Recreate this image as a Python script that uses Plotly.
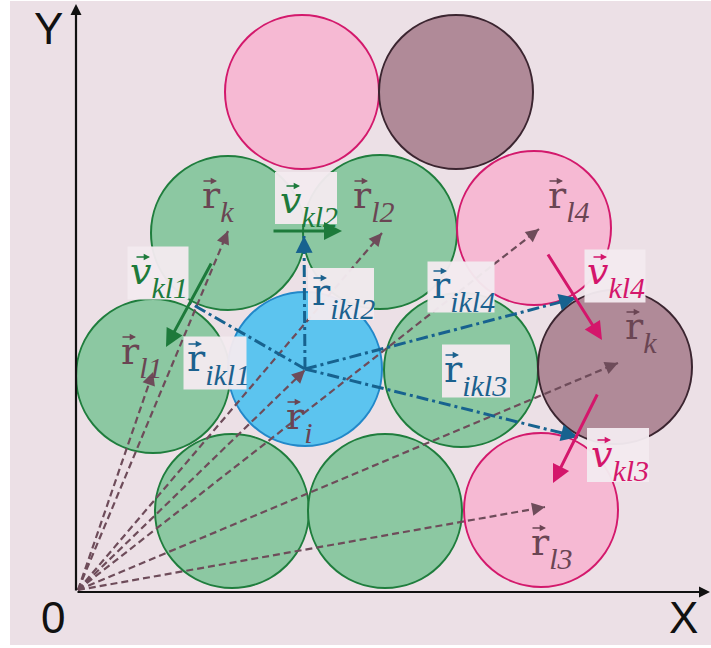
import plotly.graph_objects as go

W, H = 711, 648

# ---- particle layout (pixel units, y downward) ----
circ_x = [302, 456, 228, 380, 534, 153, 305, 461, 615, 232, 385, 541]
circ_y = [92, 92, 233, 232, 228, 376, 369, 370, 367, 511, 511, 510]
circ_kind = ["pink", "mauve", "green", "green", "pink", "green",
             "blue", "green", "mauve", "green", "green", "pink"]
radius = 77

# ---- position vectors from the origin ----
origin = (78, 590)
pos_tip_x = [228, 153, 382, 539, 305, 618, 545]
pos_tip_y = [231, 372, 233, 229, 370, 363, 507]

# ---- relative vectors r_ikl from particle i ----
rel_from = (305, 369)
rel_tip_x = [190, 304, 576, 578]
rel_tip_y = [303, 236, 298, 437]

# ---- velocity arrows (start -> end) ----
vel_x0 = [212, 272, 547, 598]
vel_y0 = [262, 231, 253, 393]
vel_x1 = [166, 342, 602, 553]
vel_y1 = [347, 231, 340, 483]
vel_kind = ["green", "green", "pink", "pink"]

# ---- vector labels: symbol, subscript, letter centre ----
lab_sym = ["r", "r", "r", "r", "r", "r", "r",
           "v", "v", "r", "r", "r", "r", "v", "v"]
lab_sub = ["k", "l2", "l4", "l1", "i", "k", "l3",
           "kl1", "kl2", "ikl2", "ikl1", "ikl4", "ikl3", "kl4", "kl3"]
lab_kind = ["mauve"] * 7 + ["green", "green", "blue", "blue", "blue", "blue",
                            "pink", "pink"]
lab_x = [209, 360, 555, 128, 293, 632, 538, 139, 289, 319, 194, 439, 451, 596, 600]
lab_y = [200, 200, 200, 356, 421, 331, 547, 276, 205, 297, 363, 290, 374, 276, 459]

# ---- label boxes (centre, size) for the boxed labels ----
box_cx = [158, 306, 341, 215, 461, 476, 615, 618]
box_cy = [273, 198, 294, 363, 287, 371, 276, 455]
box_w = [61, 62, 66, 63, 67, 68, 61, 62]
box_h = [53, 52, 52, 53, 51, 53, 53, 54]

BG = "#ece0e6"
FILL = {"pink": "#f6b9d3", "mauve": "#b08a98", "green": "#8cc8a2", "blue": "#5cc4ef"}
EDGE = {"pink": "#d3196c", "mauve": "#3b2530", "green": "#1f7d3d", "blue": "#2288c9"}
INK = {"green": "#1d7a3b", "blue": "#1b618e", "pink": "#d4166b", "mauve": "#6a4553"}
POS_LINE = "#6e4c5a"
REL_LINE = "#17628f"
MAIN_FONT = "DejaVu Serif"
SUB_FONT = "Liberation Serif"

fig = go.Figure()
shapes = []
annotations = []

# background panel
shapes.append(dict(type="rect", xref="x", yref="y", x0=10, x1=W, y0=1, y1=645,
                   fillcolor=BG, line=dict(width=0), layer="below"))

# particles
for cx, cy, kind in zip(circ_x, circ_y, circ_kind):
    shapes.append(dict(type="circle", xref="x", yref="y",
                       x0=cx - radius, x1=cx + radius, y0=cy - radius, y1=cy + radius,
                       fillcolor=FILL[kind], line=dict(color=EDGE[kind], width=2),
                       layer="below"))


def arrow_head(x0, y0, x1, y1, color, width):
    dx, dy = x1 - x0, y1 - y0
    n = (dx * dx + dy * dy) ** 0.5
    back = 6
    annotations.append(dict(x=x1, y=y1, ax=x1 - dx / n * back, ay=y1 - dy / n * back,
                            xref="x", yref="y", axref="x", ayref="y", text="",
                            showarrow=True, arrowhead=2, arrowsize=1.3,
                            arrowwidth=width, arrowcolor=color, standoff=0))


# dashed position vectors
for tx, ty in zip(pos_tip_x, pos_tip_y):
    fig.add_trace(go.Scatter(x=[origin[0], tx], y=[origin[1], ty], mode="lines",
                             line=dict(color=POS_LINE, width=2.2, dash="7px,4px"),
                             hoverinfo="skip", showlegend=False))
    arrow_head(origin[0], origin[1], tx, ty, POS_LINE, 2)

# dash-dot relative vectors
for tx, ty in zip(rel_tip_x, rel_tip_y):
    fig.add_trace(go.Scatter(x=[rel_from[0], tx], y=[rel_from[1], ty], mode="lines",
                             line=dict(color=REL_LINE, width=3, dash="12px,4px,3px,4px"),
                             hoverinfo="skip", showlegend=False))
    arrow_head(rel_from[0], rel_from[1], tx, ty, REL_LINE, 2.6)

# velocity arrows
for x0, y0, x1, y1, kind in zip(vel_x0, vel_y0, vel_x1, vel_y1, vel_kind):
    annotations.append(dict(x=x1, y=y1, ax=x0, ay=y0, xref="x", yref="y",
                            axref="x", ayref="y", text="", showarrow=True,
                            arrowhead=2, arrowsize=1.2, arrowwidth=3,
                            arrowcolor=INK[kind], standoff=0))

# coordinate axes
annotations.append(dict(x=76, y=4, ax=76, ay=592, xref="x", yref="y", axref="x",
                        ayref="y", text="", showarrow=True, arrowhead=2,
                        arrowsize=1, arrowwidth=2.2, arrowcolor="#111", standoff=0))
annotations.append(dict(x=710, y=592, ax=76, ay=592, xref="x", yref="y", axref="x",
                        ayref="y", text="", showarrow=True, arrowhead=2,
                        arrowsize=1, arrowwidth=2.2, arrowcolor="#111", standoff=0))
for txt, ax_x, ax_y in [("Y", 48, 28), ("0", 53, 617), ("X", 683, 617)]:
    annotations.append(dict(x=ax_x, y=ax_y, xref="x", yref="y", text=txt,
                            showarrow=False,
                            font=dict(family="Liberation Sans", size=44, color="#111")))

# label boxes
for cx, cy, bw, bh in zip(box_cx, box_cy, box_w, box_h):
    shapes.append(dict(type="rect", xref="x", yref="y", x0=cx - bw / 2, x1=cx + bw / 2,
                       y0=cy - bh / 2, y1=cy + bh / 2,
                       fillcolor="rgba(243,234,239,0.96)", line=dict(width=0),
                       layer="above"))

# vector labels: letter with its (lowered) subscript, plus the small arrow over it
for sym, sub, kind, lx, ly in zip(lab_sym, lab_sub, lab_kind, lab_x, lab_y):
    col = INK[kind]
    letter = "<i>v</i>" if sym == "v" else "r"
    half = 11 if sym == "v" else 9
    text = (letter + "<sub><sub><span style='font-family:" + SUB_FONT +
            ";font-size:30px'><i>" + sub + "</i></span></sub></sub>")
    annotations.append(dict(x=lx - half, y=ly, xref="x", yref="y", showarrow=False,
                            text=text, xanchor="left", yanchor="top", yshift=29,
                            font=dict(family=MAIN_FONT, size=38, color=col)))
    shift = 3 if sym == "v" else 0
    ay = ly - 19
    annotations.append(dict(x=lx + 8 + shift, y=ay, ax=lx - 7 + shift, ay=ay,
                            xref="x", yref="y", axref="x", ayref="y", text="",
                            showarrow=True, arrowhead=2, arrowsize=0.9,
                            arrowwidth=1.4, arrowcolor=col, standoff=0))

fig.update_layout(
    width=W, height=H, margin=dict(l=0, r=0, t=0, b=0),
    paper_bgcolor="#ffffff", plot_bgcolor="#ffffff",
    xaxis=dict(range=[0, W], visible=False, fixedrange=True),
    yaxis=dict(range=[H, 0], visible=False, fixedrange=True),
    shapes=shapes, annotations=annotations, showlegend=False,
)

fig.write_html("out.html")
